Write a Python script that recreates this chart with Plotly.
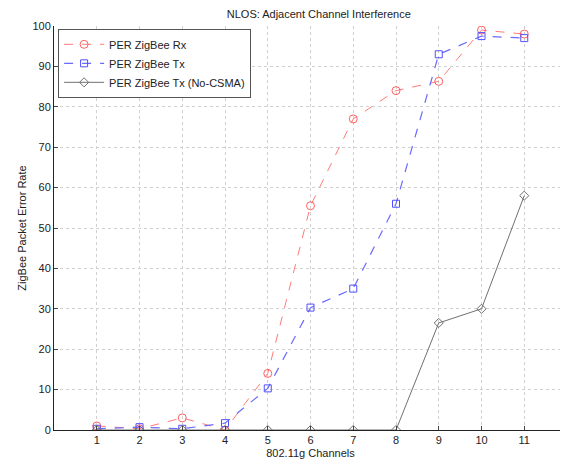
import plotly.graph_objects as go

channels = [1, 2, 3, 4, 5, 6, 7, 8, 9, 10, 11]
per_rx = [1.0, 0.3, 3.0, 0.0, 14.0, 55.5, 77.0, 84.0, 86.3, 99.0, 98.0]
per_tx = [0.3, 0.7, 0.3, 1.7, 10.3, 30.3, 35.0, 56.0, 93.0, 97.5, 97.0]
per_tx_nocsma = [0, 0, 0, 0, 0, 0, 0, 0, 26.5, 30.0, 58.0]
x_ticks = [1, 2, 3, 4, 5, 6, 7, 8, 9, 10, 11]
y_ticks = [0, 10, 20, 30, 40, 50, 60, 70, 80, 90, 100]

fig = go.Figure()
fig.add_trace(go.Scatter(
    x=channels, y=per_rx, name="PER ZigBee Rx", mode="lines+markers",
    line=dict(color="#ff7a7a", width=1, dash="dash"),
    marker=dict(symbol="circle-open", size=8, color="#ff6060", line=dict(width=1)),
))
fig.add_trace(go.Scatter(
    x=channels, y=per_tx, name="PER ZigBee Tx", mode="lines+markers",
    line=dict(color="#6a6aff", width=1.2, dash="dash"),
    marker=dict(symbol="square-open", size=7, color="#5050ff", line=dict(width=1)),
))
fig.add_trace(go.Scatter(
    x=channels, y=per_tx_nocsma, name="PER ZigBee Tx (No-CSMA)", mode="lines+markers",
    line=dict(color="#707070", width=1),
    marker=dict(symbol="diamond-open", size=7, color="#707070", line=dict(width=1)),
))

fig.update_layout(
    width=560, height=456,
    margin=dict(l=46, r=1, t=18, b=34),
    paper_bgcolor="white", plot_bgcolor="white",
    font=dict(family="Liberation Sans, Arial, sans-serif", size=11, color="#222"),
    title=dict(text="NLOS: Adjacent Channel Interference", x=0.555, xanchor="center",
               y=0.995, yanchor="top", font=dict(size=11)),
    legend=dict(x=0.008, y=0.993, xanchor="left", yanchor="top",
                bgcolor="white", bordercolor="#555", borderwidth=1,
                font=dict(size=11), tracegroupgap=0, itemwidth=40),
    showlegend=True,
)
fig.update_xaxes(
    range=[0, 12], tickvals=x_ticks, ticktext=[str(v) for v in x_ticks],
    showgrid=True, gridcolor="#d0d0d0", griddash="dot", gridwidth=1,
    showline=True, linecolor="#222", linewidth=1, ticks="inside", ticklen=4,
    tickcolor="#444", zeroline=False, mirror=False,
    title=dict(text="802.11g Channels", standoff=4, font=dict(size=11)),
)
fig.update_yaxes(
    range=[0, 100], tickvals=y_ticks,
    showgrid=True, gridcolor="#d0d0d0", griddash="dot", gridwidth=1,
    showline=True, linecolor="#222", linewidth=1, ticks="inside", ticklen=4,
    tickcolor="#444", zeroline=False,
    title=dict(text="ZigBee Packet Error Rate", standoff=3, font=dict(size=11)),
)

fig.write_html("out.html")
